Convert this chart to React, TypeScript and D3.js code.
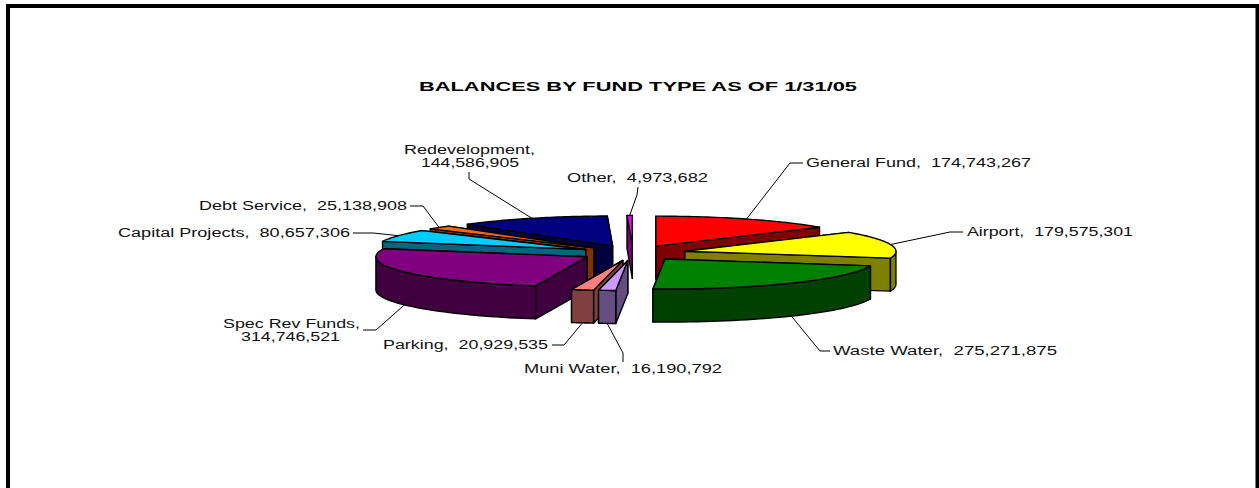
import * as d3 from 'd3';

const funds = ['General Fund', 'Airport', 'Waste Water', 'Muni Water', 'Parking', 'Spec Rev Funds', 'Capital Projects', 'Debt Service', 'Redevelopment', 'Other'];
const balances = [174743267, 179575301, 275271875, 16190792, 20929535, 314746521, 80657306, 25138908, 144586905, 4973682];
const colors = ['#ff0000', '#ffff00', '#008000', '#cc99ff', '#ff8080', '#800080', '#00ccff', '#ff6600', '#000080', '#ff00ff'];

const title = 'BALANCES BY FUND TYPE AS OF 1/31/05';

// where Excel put each label: text lines [x, baseline, width], then the leader elbow points
const labelLayout = [
  { lines: [[806, 167, 225]], elbow: [[803, 163], [790, 163]] },
  { lines: [[967, 236, 166]], elbow: [[963, 232], [950, 232]] },
  { lines: [[833, 355, 224]], elbow: [[830, 351], [820, 351]] },
  { lines: [[524, 373, 198]], elbow: [[623, 362], [623, 353]] },
  { lines: [[383, 349, 165]], elbow: [[552, 345], [564, 345]] },
  { lines: [[223, 328, 137], [241, 341, 99]], elbow: [[363, 330], [376, 330]] },
  { lines: [[118, 237, 232]], elbow: [[353, 233], [373, 233]] },
  { lines: [[199, 210, 208]], elbow: [[410, 206], [423, 206]] },
  { lines: [[404, 154, 131], [421, 167, 98]], elbow: [[469, 172], [469, 179]] },
  { lines: [[567, 182, 141]], elbow: [[638, 187], [637, 195]] },
];

const labelLines = (i: number) => {
  const num = d3.format(',')(balances[i]);
  // the two long names wrap in the original
  if (labelLayout[i].lines.length === 2) return [`${funds[i]},`, num];
  return [`${funds[i]},  ${num}`];
};

const width = 1259;
const height = 488;
const cx = 633;
const cy = 253;
const rx = 211;
const ry = 30;
const depth = 33;
const explode = 53.3;

const line = d3.line();

export default function App() {
  const arcs = d3.pie<number>().sort(null)(balances);

  const slices = arcs.map((a, i) => {
    const mid = (a.startAngle + a.endAngle) / 2;
    const ax = cx + explode * Math.sin(mid);
    const ay = cy - (explode * ry / rx) * Math.cos(mid);
    const rim = (t: number, dy = 0): [number, number] => [ax + rx * Math.sin(t), ay - ry * Math.cos(t) + dy];
    const arcPts = (t0: number, t1: number, dy = 0) =>
      d3.range(0, 41).map((k) => rim(t0 + ((t1 - t0) * k) / 40, dy));

    const base = d3.rgb(colors[i]);
    const side = d3.rgb(base.r / 2, base.g / 2, base.b / 2).formatHex();

    const wall = (t: number) => line([[ax, ay], rim(t), rim(t, depth), [ax, ay + depth]]) + 'Z';
    const startFront = Math.sin(a.startAngle) < -1e-9;
    const endFront = Math.sin(a.endAngle) > 1e-9;
    const t0 = Math.max(a.startAngle, Math.PI / 2);
    const t1 = Math.min(a.endAngle, (3 * Math.PI) / 2);
    const outer = t1 > t0 ? line([...arcPts(t0, t1), ...arcPts(t1, t0, depth)]) + 'Z' : null;
    const top = line([[ax, ay], ...arcPts(a.startAngle, a.endAngle)]) + 'Z';

    // leader leaves the visible rim at the middle of the slice
    const anchor = rim(mid, Math.cos(mid) < 0 ? depth : 0);
    const elbow = labelLayout[i].elbow as [number, number][];
    const leader = line([...elbow, anchor]);

    return { i, mid, side, startWall: wall(a.startAngle), endWall: wall(a.endAngle), startFront, endFront, outer, top, leader };
  });

  // paint far slices first
  const painted = [...slices].sort((p, q) => Math.cos(q.mid) - Math.cos(p.mid));

  return (
    <svg width={width} height={height} style={{ position: 'fixed', left: 0, top: 0, display: 'block', background: '#fff' }} fontFamily="'Liberation Sans', Arial, sans-serif">
      <path d="M8 488V6H1257.5V488" fill="none" stroke="#000" strokeWidth={4} />
      <text x={419} y={91} fontSize={13} fontWeight="bold" textLength={438} lengthAdjust="spacingAndGlyphs">{title}</text>

      {painted.map((s) => (
        <g key={s.i} stroke="#000" strokeWidth={1.4} strokeLinejoin="round">
          {!s.startFront && <path d={s.startWall} fill={s.side} />}
          {!s.endFront && <path d={s.endWall} fill={s.side} />}
          {s.startFront && <path d={s.startWall} fill={s.side} />}
          {s.endFront && <path d={s.endWall} fill={s.side} />}
          {s.outer && <path d={s.outer} fill={s.side} />}
          <path d={s.top} fill={colors[s.i]} />
        </g>
      ))}

      {slices.map((s) => (
        <path key={s.i} d={s.leader ?? ''} fill="none" stroke="#000" strokeWidth={1} />
      ))}

      {funds.map((f, i) =>
        labelLines(i).map((txt, j) => {
          const [x, y, w] = labelLayout[i].lines[j];
          return (
            <text key={`${f}-${j}`} x={x} y={y} fontSize={12} textLength={w} lengthAdjust="spacingAndGlyphs" style={{ whiteSpace: 'pre' }} fill="#111">
              {txt}
            </text>
          );
        })
      )}
    </svg>
  );
}
